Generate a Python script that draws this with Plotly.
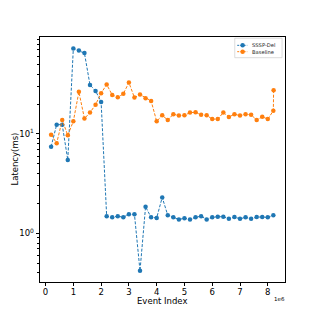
import plotly.graph_objects as go

x_sssp = [0.2, 0.4, 0.6, 0.8, 1.0, 1.2, 1.4, 1.6, 1.8, 2.0, 2.2, 2.4, 2.6, 2.8, 3.0, 3.2, 3.4, 3.6, 3.8, 4.0,
          4.2, 4.4, 4.6, 4.8, 5.0, 5.2, 5.4, 5.6, 5.8, 6.0, 6.2, 6.4, 6.6, 6.8, 7.0, 7.2, 7.4, 7.6, 7.8, 8.0, 8.2]
y_sssp = [7.45, 12.4, 12.4, 5.47, 72.3, 69.0, 65.0, 31.1, 27.1, 21.0, 1.49, 1.45, 1.49, 1.45, 1.56, 1.56, 0.42, 1.85, 1.45, 1.43,
          2.30, 1.52, 1.45, 1.38, 1.42, 1.38, 1.45, 1.49, 1.38, 1.45, 1.47, 1.47, 1.40, 1.46, 1.40, 1.45, 1.40, 1.46, 1.46, 1.45, 1.52]

x_base = [0.2, 0.4, 0.6, 0.8, 1.0, 1.2, 1.4, 1.6, 1.8, 2.0, 2.2, 2.4, 2.6, 2.8, 3.0, 3.2, 3.4, 3.6, 3.8, 4.0,
          4.2, 4.4, 4.6, 4.8, 5.0, 5.2, 5.4, 5.6, 5.8, 6.0, 6.2, 6.4, 6.6, 6.8, 7.0, 7.2, 7.4, 7.6, 7.8, 8.0, 8.2, 8.21]
y_base = [9.84, 8.06, 13.8, 9.7, 13.4, 26.5, 14.3, 16.4, 19.7, 25.7, 31.4, 24.7, 23.4, 25.3, 32.9, 23.2, 24.9, 22.9, 21.5, 13.4,
          15.4, 13.8, 15.8, 15.3, 15.4, 16.4, 16.5, 15.6, 15.4, 14.1, 14.1, 16.4, 14.8, 15.8, 15.3, 15.8, 15.6, 13.8, 14.9, 14.1, 17.1, 27.5]

series_names = ["SSSP-Del", "Baseline"]
series_colors = ["#1f77b4", "#ff7f0e"]
x_ticks = [0, 1, 2, 3, 4, 5, 6, 7, 8]
scale = 1e6
DASH = "3px,1.6px"

fig = go.Figure()
for xs, ys, name, col in [(x_sssp, y_sssp, series_names[0], series_colors[0]),
                          (x_base, y_base, series_names[1], series_colors[1])]:
    fig.add_trace(go.Scatter(x=[v * scale for v in xs], y=ys, name=name, mode="lines+markers",
                             line=dict(color=col, width=1, dash=DASH),
                             marker=dict(color=col, size=4.5), showlegend=False))

# custom legend (compact, matplotlib-like)
leg_x0, leg_x1, leg_y0, leg_y1 = 0.795, 0.988, 0.9155, 0.995
fig.add_shape(type="rect", xref="paper", yref="paper", x0=leg_x0, x1=leg_x1, y0=leg_y0, y1=leg_y1,
              line=dict(color="#cccccc", width=0.7), fillcolor="white", layer="below")
row_y = [0.966, 0.940]
for i, (name, col) in enumerate(zip(series_names, series_colors)):
    fig.add_trace(go.Scatter(x=[0.805, 0.827, 0.846], y=[row_y[i]] * 3, xaxis="x2", yaxis="y2",
                             mode="lines", line=dict(color=col, width=1, dash="2px,1.2px"),
                             showlegend=False, hoverinfo="skip"))
    fig.add_trace(go.Scatter(x=[0.827], y=[row_y[i]], xaxis="x2", yaxis="y2",
                             mode="markers", marker=dict(color=col, size=4.5),
                             showlegend=False, hoverinfo="skip"))
    fig.add_annotation(text=name, x=0.857, y=row_y[i], xref="paper", yref="paper",
                       xanchor="left", yanchor="middle", showarrow=False,
                       font=dict(size=5.2, color="#222222"))

minor_vals = [m * d for d in (0.1, 1, 10) for m in range(2, 10)]

fig.update_layout(
    width=317, height=317,
    margin=dict(l=40, r=32, t=37, b=35),
    paper_bgcolor="white", plot_bgcolor="white",
    font=dict(family="DejaVu Sans", size=8, color="black"),
    showlegend=False,
    xaxis2=dict(overlaying="x", anchor="y2", range=[0, 1], visible=False, fixedrange=True),
    yaxis2=dict(overlaying="y", anchor="x2", range=[0, 1], visible=False, fixedrange=True),
)
fig.layout.xaxis.update(
    range=[-0.2 * scale, 8.62 * scale], automargin=False,
    tickvals=[v * scale for v in x_ticks], ticktext=[str(v) for v in x_ticks],
    ticks="outside", ticklen=3.5, tickwidth=0.8, tickcolor="black", ticklabelstandoff=-2,
    showline=True, linecolor="black", linewidth=0.8, mirror=True,
    showgrid=False, zeroline=False, tickfont=dict(size=8.5),
)
fig.layout.yaxis.update(
    type="log", range=[-0.489, 1.975], automargin=False,
    tickvals=[1, 10], ticktext=["10<sup>0</sup>", "10<sup>1</sup>"],
    ticks="outside", ticklen=3.5, tickwidth=0.8, tickcolor="black",
    minor=dict(tickmode="array", tickvals=minor_vals, ticks="outside", ticklen=2, tickwidth=0.6,
               tickcolor="black", showgrid=False),
    showline=True, linecolor="black", linewidth=0.8, mirror=True,
    showgrid=False, zeroline=False, tickfont=dict(size=8.5),
)
fig.add_annotation(text="Event Index", x=0.498, y=-0.078, xref="paper", yref="paper",
                   xanchor="center", yanchor="middle", showarrow=False, font=dict(size=8.5))
fig.add_annotation(text="Latency(ms)", x=-0.106, y=0.5, xref="paper", yref="paper", textangle=-90,
                   xanchor="center", yanchor="middle", showarrow=False, font=dict(size=8.5))
fig.add_annotation(text="1e6", x=0.976, y=-0.069, xref="paper", yref="paper",
                   xanchor="center", yanchor="middle", showarrow=False, font=dict(size=5.5))

fig.write_html("out.html", config={"displayModeBar": False},
               post_script="document.body.style.margin='0px';document.body.style.overflow='hidden';")
